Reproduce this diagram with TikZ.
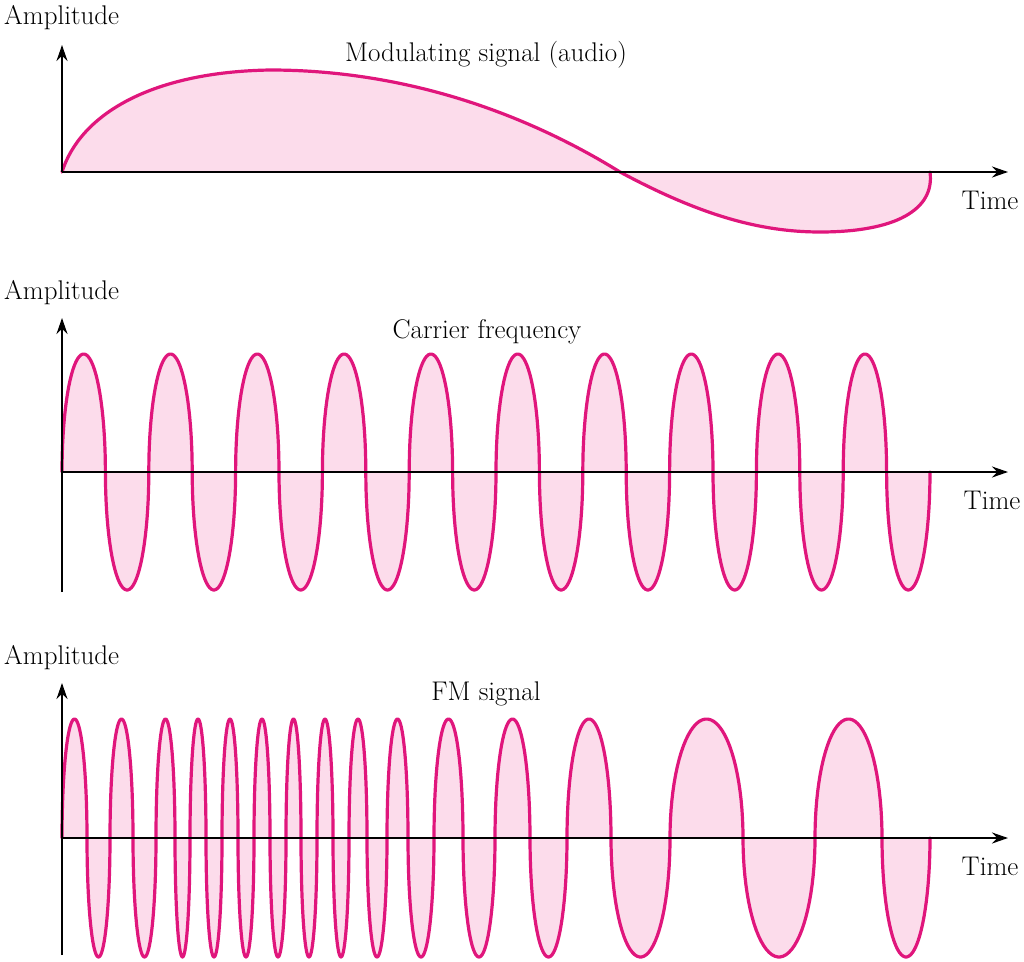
\documentclass[tikz,border=0pt]{standalone}
\usetikzlibrary{arrows.meta}
\definecolor{sig}{HTML}{E0167C}
\definecolor{sigfill}{HTML}{FCDCEB}
\begin{document}
\begin{tikzpicture}[x=1pt,y=-1pt,
  lbl/.style={font=\fontsize{27}{31}\selectfont,inner sep=0pt},
  axis/.style={line width=2pt,-{Stealth[length=16pt,width=11pt]}},
  wave/.style={sig,line width=3.2pt,line cap=round,line join=round},
  wavefill/.style={fill=sigfill}]
\useasboundingbox (0,0) rectangle (1024,961);
% ---------- panel 1
\def\modpath{(62,172) .. controls (80,115) and (150,72) .. (270,70)
  .. controls (400,70) and (520,110) .. (620,172)
  .. controls (700,215) and (760,232) .. (820,232)
  .. controls (895,232) and (935,210) .. (930,172)}
\fill[wavefill] \modpath -- cycle;
\draw[wave] \modpath;
\coordinate (o1) at (62,172); \coordinate (y1) at (62,45); \coordinate (x1) at (1008,172);
\draw[axis] (o1) -- (y1);
\draw[axis] (o1) -- (x1);
\node[lbl,anchor=west] (amp1) at (4,18) {Amplitude};
\node[lbl] (mod) at (486,55) {Modulating signal (audio)};
\node[lbl] (t1) at (990,200) {Time};
% ---------- panel 2
\foreach \k in {0,...,19}{
  \pgfmathsetmacro{\a}{62+43.4*\k}
  \pgfmathsetmacro{\b}{62+43.4*(\k+1)}
  \pgfmathsetmacro{\s}{1-2*mod(\k,2)}
  \fill[wavefill] (\a,472) -- plot[domain=0:180,samples=40,variable=\t] ({\a+(\b-\a)*(1-cos(\t))/2},{472-\s*118*sin(\t)}) -- cycle;
  \draw[wave] plot[domain=0:180,samples=40,variable=\t] ({\a+(\b-\a)*(1-cos(\t))/2},{472-\s*118*sin(\t)});
}
\coordinate (o2) at (62,472); \coordinate (b2) at (62,592); \coordinate (y2) at (62,318); \coordinate (x2) at (1008,472);
\draw[axis] (b2) -- (y2);
\draw[axis] (o2) -- (x2);
\node[lbl,anchor=west] (amp2) at (4,293) {Amplitude};
\node[lbl] (car) at (487,332) {Carrier frequency};
\node[lbl] (t2) at (992,500) {Time};
% ---------- panel 3
\def\prev{62}
\foreach \b [count=\k] in {87,110,133,156,175,190,206,222,238,254,270,286,301,317,333,349,367,387,408,434,463,495,530,567,611,670,743,815,882,930}{
  \pgfmathsetmacro{\s}{2*mod(\k,2)-1}
  \fill[wavefill] (\prev,838) -- plot[domain=0:180,samples=40,variable=\t] ({\prev+(\b-\prev)*(1-cos(\t))/2},{838-\s*119*sin(\t)}) -- cycle;
  \draw[wave] plot[domain=0:180,samples=40,variable=\t] ({\prev+(\b-\prev)*(1-cos(\t))/2},{838-\s*119*sin(\t)});
  \global\let\prev\b
}
\coordinate (o3) at (62,838); \coordinate (b3) at (62,955); \coordinate (y3) at (62,683); \coordinate (x3) at (1008,838);
\draw[axis] (b3) -- (y3);
\draw[axis] (o3) -- (x3);
\node[lbl,anchor=west] (amp3) at (4,658) {Amplitude};
\node[lbl] (fm) at (486,694) {FM signal};
\node[lbl] (t3) at (990,866) {Time};
\end{tikzpicture}
\end{document}
